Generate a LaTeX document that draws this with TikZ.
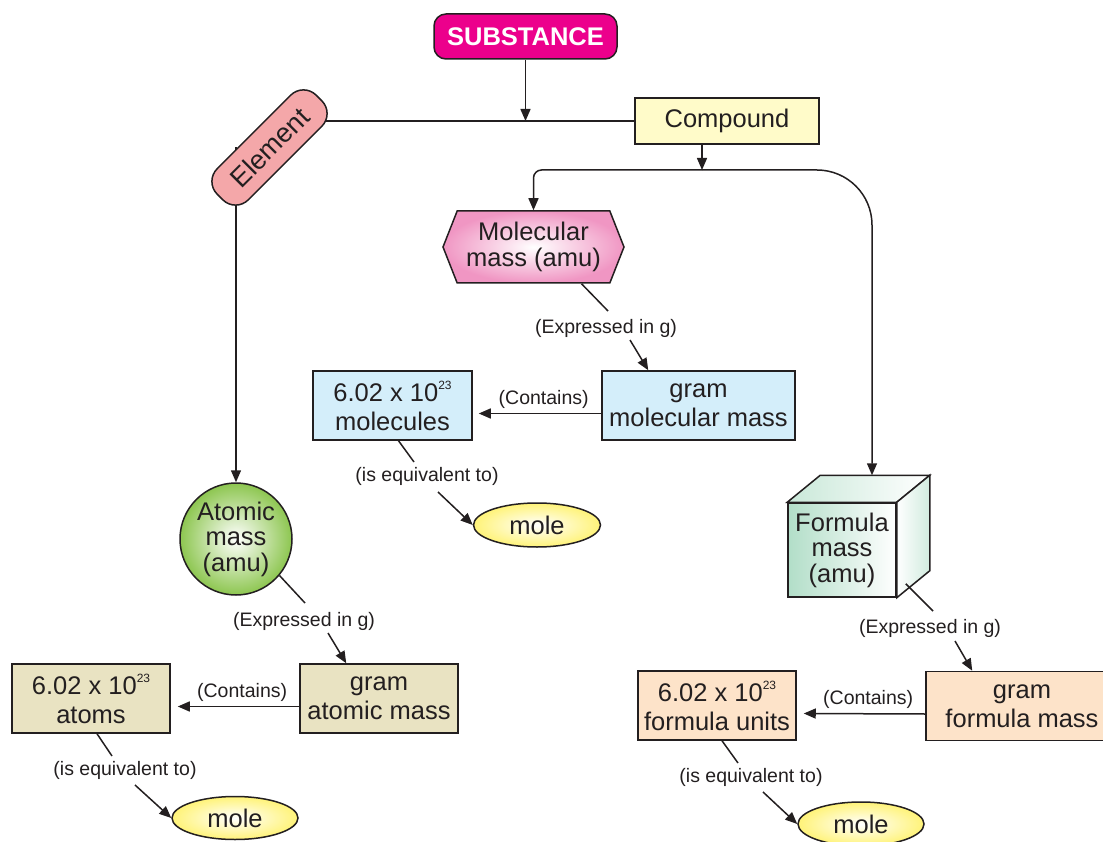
\documentclass[tikz,border=0pt]{standalone}
\usepackage{fontspec}
\setmainfont{Liberation Sans}
\usepackage{tikz}
\usetikzlibrary{arrows.meta,shapes.geometric,shapes.symbols,calc,backgrounds}
\definecolor{inkline}{RGB}{35,31,32}
\definecolor{substmagenta}{RGB}{236,0,140}
\definecolor{elempink}{RGB}{244,167,169}
\definecolor{compyellow}{RGB}{255,251,201}
\definecolor{molpink}{RGB}{240,150,195}
\definecolor{molblue}{RGB}{212,238,250}
\definecolor{atomgreen}{RGB}{141,198,80}
\definecolor{atombeige}{RGB}{233,227,194}
\definecolor{formgreen}{RGB}{178,222,200}
\definecolor{formpeach}{RGB}{253,227,201}
\definecolor{moleyellow}{RGB}{255,243,120}
\newcommand{\bigtxt}{\fontsize{25.5}{29}\selectfont}
\newcommand{\tighttxt}{\fontsize{25.5}{25.5}\selectfont}
\newcommand{\smalltxt}{\fontsize{19.5}{20}\selectfont}
\newcommand{\avog}{6.02 x 10\raisebox{12pt}{\fontsize{12}{12}\selectfont 23}}

\begin{document}
\begin{tikzpicture}[x=1pt,y=-1pt,
    flow/.style={draw=inkline, line width=1.5pt, -{Triangle[length=12pt,width=10pt]}},
    plain/.style={draw=inkline, line width=1.5pt},
    box/.style={draw=inkline, line width=1.5pt, align=center, font=\bigtxt, text=inkline, inner sep=0pt},
    lbl/.style={font=\smalltxt, text=inkline, inner sep=0pt}]
    \useasboundingbox (0,0) rectangle (1103,842);

    % Top of the map
    \node[box, fill=substmagenta, rounded corners=12pt, minimum width=183, minimum height=45,
          text=white, font=\bigtxt\bfseries] (sub) at (525.5,36.5) {SUBSTANCE};
    \node[box, fill=elempink, rounded corners=18pt, rotate=45, minimum width=140, minimum height=44,
          font=\fontsize{27}{27}\selectfont] (el) at (269.5,147.5) {Element};
    \node[box, fill=compyellow, minimum width=184, minimum height=46] (cmp) at (727,121) {Compound};
    \coordinate (split) at (702,170);

    % Molecular mass branch
    \node[box, signal, signal to=east and west, signal pointer angle=137, inner color=white,
          outer color=molpink, minimum width=181, minimum height=72, font=\tighttxt] (mm) at (533.5,247) {Molecular\\mass (amu)};
    \node[box, fill=molblue, minimum width=193, minimum height=69] (gmm) at (698.5,405.5) {gram\\molecular mass};
    \node[box, fill=molblue, minimum width=159, minimum height=69] (mol) at (392.5,405.5) {\avog\\molecules};
    \node[box, ellipse, inner color=white, outer color=moleyellow, minimum width=127, minimum height=44]
          (mole1) at (537,525) {mole};

    % Atomic mass branch
    \node[box, circle, inner color=white, outer color=atomgreen, minimum size=112, font=\tighttxt]
          (am) at (236,539) {Atomic\\mass\\(amu)};
    \node[box, fill=atombeige, minimum width=158, minimum height=69] (gam) at (379,698.5) {gram\\atomic mass};
    \node[box, fill=atombeige, minimum width=158, minimum height=69] (atm) at (91,698.5) {\avog\\atoms};
    \node[box, ellipse, inner color=white, outer color=moleyellow, minimum width=126, minimum height=43]
          (mole2) at (235,818) {mole};

    % Formula mass branch (cube)
    \def\dx{33}
    \def\dy{-27}
    \node[box, left color=formgreen, right color=white, minimum width=108, minimum height=94, font=\tighttxt]
          (fm) at (842,550) {Formula\\mass\\(amu)};
    \draw[plain, left color=formgreen!70, right color=white] (fm.north west) -- ++(\dx,\dy)
        -- ($(fm.north east)+(\dx,\dy)$) -- (fm.north east) -- cycle;
    \draw[plain, left color=white, right color=formgreen!60] (fm.north east) -- ++(\dx,\dy)
        -- ($(fm.south east)+(\dx,\dy)$) -- (fm.south east) -- cycle;
    \coordinate (fmtop) at ($(fm.north)+(30,\dy)$);
    \node[box, fill=formpeach, minimum width=192, minimum height=69] (gfm) at (1022,706) {gram\\formula mass};
    \node[box, fill=formpeach, minimum width=158, minimum height=69] (fu) at (717,705.5) {\avog\\formula units};
    \node[box, ellipse, inner color=white, outer color=moleyellow, minimum width=126, minimum height=44]
          (mole3) at (861,824) {mole};

    % Main connectors
    \draw[flow] (sub.south) -- (sub.south |- cmp.west);
    \draw[flow] (split |- cmp.south) -- (split);
    \draw[flow, rounded corners=8pt] (split) -| (mm.north);
    \draw[flow, rounded corners=55pt] (split) -| (fmtop);
    \begin{scope}[on background layer]
        \draw[plain] (el.center |- cmp.west) -- (cmp.west);
        \draw[flow] (am.north |- el.center) -- (am.north);
    \end{scope}

    % Expressed in g
    \node[lbl] (ex1) at (606,328) {(Expressed in g)};
    \draw[plain] ($(mm.south)+(48,0)$) -- ($(ex1)+(2,-17)$);
    \draw[flow] ($(ex1)+(24,12)$) -- ($(gmm.north west)+(47,0)$);
    \node[lbl] (ex2) at (304,621) {(Expressed in g)};
    \draw[plain] (am.-40) -- ($(ex2)+(1,-18)$);
    \draw[flow] ($(ex2)+(24,12)$) -- ($(gam.north west)+(47,0)$);
    \node[lbl] (ex3) at (930,628) {(Expressed in g)};
    \draw[plain] ($(fm.south east)+(9,-14)$) -- ($(ex3)+(3,-17)$);
    \draw[flow] ($(ex3)+(25,13)$) -- ($(gfm.north west)+(47,0)$);

    % Contains
    \draw[flow] ($(gmm.west)+(0,8)$) -- ($(mol.east)+(6,8)$) node[lbl, pos=0.47, above=4pt] (ct1) {(Contains)};
    \draw[flow] ($(gam.west)+(0,8)$) -- ($(atm.east)+(7,8)$) node[lbl, pos=0.47, above=4pt] (ct2) {(Contains)};
    \draw[flow] ($(gfm.west)+(0,8)$) -- ($(fu.east)+(7,8)$) node[lbl, pos=0.47, above=4pt] (ct3) {(Contains)};

    % is equivalent to
    \node[lbl] (eq1) at (427,476) {(is equivalent to)};
    \draw[plain] ($(mol.south)+(6,0)$) -- ($(eq1)+(-13,-14)$);
    \draw[flow] ($(eq1)+(11,16)$) -- (mole1.west);
    \node[lbl] (eq2) at (125,770) {(is equivalent to)};
    \draw[plain] ($(atm.south)+(6,0)$) -- ($(eq2)+(-13,-14)$);
    \draw[flow] ($(eq2)+(10,15)$) -- (mole2.west);
    \node[lbl] (eq3) at (751,777) {(is equivalent to)};
    \draw[plain] ($(fu.south)+(5,0)$) -- ($(eq3)+(-13,-14)$);
    \draw[flow] ($(eq3)+(12,15)$) -- (mole3.west);
\end{tikzpicture}
\end{document}
